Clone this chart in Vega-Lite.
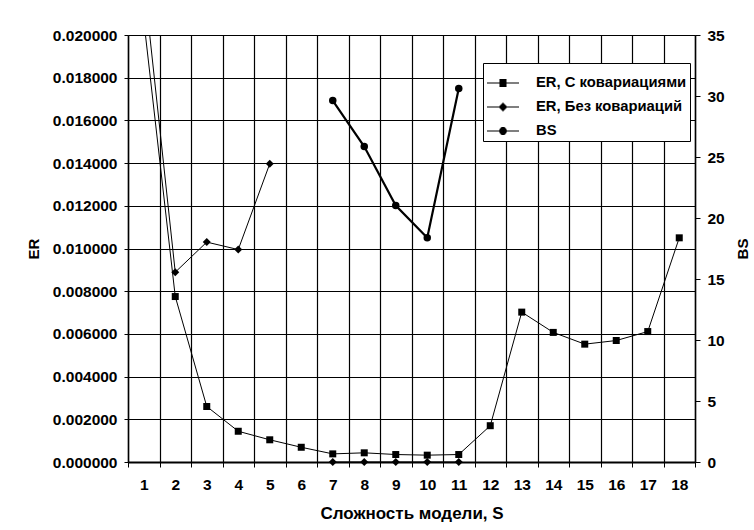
{
  "$schema": "https://vega.github.io/schema/vega-lite/v6.json",
  "width": 567,
  "height": 427,
  "autosize": {"type": "none"},
  "padding": {"left": 128, "top": 35, "right": 59, "bottom": 68},
  "background": "white",
  "config": {
    "font": "Liberation Sans",
    "view": {"stroke": null},
    "axis": {
      "labelFont": "Liberation Sans", "labelFontWeight": "bold", "labelFontSize": 15.5, "labelColor": "#000",
      "titleFont": "Liberation Sans", "titleFontWeight": "bold", "titleFontSize": 15, "titleColor": "#000",
      "domainColor": "#000", "tickColor": "#000", "gridColor": "#000", "gridOpacity": 1, "gridWidth": 1.2, "tickWidth": 1
    }
  },
  "datasets": {
    "er": [
      {"S": 1, "series": "ER, С ковариациями", "seg": "A", "ER": 0.0207},
      {"S": 2, "series": "ER, С ковариациями", "seg": "A", "ER": 0.00775},
      {"S": 3, "series": "ER, С ковариациями", "seg": "A", "ER": 0.0026},
      {"S": 4, "series": "ER, С ковариациями", "seg": "A", "ER": 0.00144},
      {"S": 5, "series": "ER, С ковариациями", "seg": "A", "ER": 0.00104},
      {"S": 6, "series": "ER, С ковариациями", "seg": "A", "ER": 0.00069},
      {"S": 7, "series": "ER, С ковариациями", "seg": "A", "ER": 0.00038},
      {"S": 8, "series": "ER, С ковариациями", "seg": "A", "ER": 0.00043},
      {"S": 9, "series": "ER, С ковариациями", "seg": "A", "ER": 0.00035},
      {"S": 10, "series": "ER, С ковариациями", "seg": "A", "ER": 0.00032},
      {"S": 11, "series": "ER, С ковариациями", "seg": "A", "ER": 0.00035},
      {"S": 12, "series": "ER, С ковариациями", "seg": "A", "ER": 0.0017},
      {"S": 13, "series": "ER, С ковариациями", "seg": "A", "ER": 0.00702},
      {"S": 14, "series": "ER, С ковариациями", "seg": "A", "ER": 0.00607},
      {"S": 15, "series": "ER, С ковариациями", "seg": "A", "ER": 0.00552},
      {"S": 16, "series": "ER, С ковариациями", "seg": "A", "ER": 0.00569},
      {"S": 17, "series": "ER, С ковариациями", "seg": "A", "ER": 0.00611},
      {"S": 18, "series": "ER, С ковариациями", "seg": "A", "ER": 0.0105},
      {"S": 1, "series": "ER, Без ковариаций", "seg": "B1", "ER": 0.0226},
      {"S": 2, "series": "ER, Без ковариаций", "seg": "B1", "ER": 0.00889},
      {"S": 3, "series": "ER, Без ковариаций", "seg": "B1", "ER": 0.0103},
      {"S": 4, "series": "ER, Без ковариаций", "seg": "B1", "ER": 0.00995},
      {"S": 5, "series": "ER, Без ковариаций", "seg": "B1", "ER": 0.01397},
      {"S": 7, "series": "ER, Без ковариаций", "seg": "B2", "ER": 0},
      {"S": 8, "series": "ER, Без ковариаций", "seg": "B2", "ER": 0},
      {"S": 9, "series": "ER, Без ковариаций", "seg": "B2", "ER": 0},
      {"S": 10, "series": "ER, Без ковариаций", "seg": "B2", "ER": 0},
      {"S": 11, "series": "ER, Без ковариаций", "seg": "B2", "ER": 0}
    ],
    "bs": [
      {"S": 7, "series": "BS", "BS": 29.63},
      {"S": 8, "series": "BS", "BS": 25.86},
      {"S": 9, "series": "BS", "BS": 21.02},
      {"S": 10, "series": "BS", "BS": 18.38},
      {"S": 11, "series": "BS", "BS": 30.61}
    ],
    "legend": [
      {"S": 1, "series": "ER, С ковариациями"},
      {"S": 1, "series": "ER, Без ковариаций"},
      {"S": 1, "series": "BS"}
    ]
  },
  "encoding": {
    "x": {
      "field": "S", "type": "ordinal",
      "scale": {"type": "band", "paddingInner": 0, "paddingOuter": 0},
      "axis": {
        "title": "Сложность модели, S", "titleFontSize": 17, "labelAngle": 0, "tickBand": "extent", "grid": true,
        "tickSize": 5, "labelPadding": 10, "domainWidth": 2,
        "titleY": 51, "titleBaseline": "middle"
      }
    }
  },
  "layer": [
    {
      "data": {"name": "er"},
      "encoding": {
        "y": {
          "field": "ER", "type": "quantitative",
          "scale": {"domain": [0, 0.02], "nice": false},
          "axis": {
            "title": "ER", "values": [0, 0.002, 0.004, 0.006, 0.008, 0.01, 0.012, 0.014, 0.016, 0.018, 0.02],
            "format": ".6f", "grid": true, "tickSize": 4, "labelPadding": 7, "domainWidth": 1.5,
            "titleX": -95, "titleY": 213.5, "titleAngle": 270, "titleBaseline": "middle", "titleAlign": "center"
          }
        }
      },
      "layer": [
        {
          "mark": {"type": "line", "color": "black", "strokeWidth": 1, "clip": true},
          "encoding": {"detail": {"field": "seg"}}
        },
        {
          "transform": [{"filter": "datum.ER <= 0.02"}],
          "mark": {"type": "point", "filled": true, "color": "black", "opacity": 1},
          "encoding": {
            "shape": {"field": "series", "type": "nominal",
              "scale": {"domain": ["ER, С ковариациями", "ER, Без ковариаций"], "range": ["square", "diamond"]},
              "legend": null},
            "size": {"field": "series", "type": "nominal",
              "scale": {"domain": ["ER, С ковариациями", "ER, Без ковариаций"], "range": [49, 64]},
              "legend": null}
          }
        }
      ]
    },
    {
      "data": {"name": "bs"},
      "encoding": {
        "y": {
          "field": "BS", "type": "quantitative",
          "scale": {"domain": [0, 35], "nice": false},
          "axis": {
            "orient": "right", "title": "BS", "values": [0, 5, 10, 15, 20, 25, 30, 35],
            "grid": false, "tickSize": 5, "labelPadding": 7, "domainWidth": 1.5,
            "titleX": 47, "titleY": 213.5, "titleAngle": 270, "titleBaseline": "middle", "titleAlign": "center"
          }
        }
      },
      "layer": [
        {"mark": {"type": "line", "color": "black", "strokeWidth": 2.2, "clip": true}},
        {"mark": {"type": "point", "filled": true, "color": "black", "shape": "circle", "size": 56, "opacity": 1}}
      ]
    },
    {
      "data": {"name": "legend"},
      "mark": {"type": "point", "filled": false, "color": "black", "strokeWidth": 1.2, "opacity": 0},
      "encoding": {
        "shape": {
          "field": "series", "type": "nominal",
          "scale": {
            "domain": ["ER, С ковариациями", "ER, Без ковариаций", "BS"],
            "range": [
              "M-1,0L1,0M-0.22,-0.1875L0.22,-0.1875M-0.22,-0.125L0.22,-0.125M-0.22,-0.0625L0.22,-0.0625M-0.22,0.0625L0.22,0.0625M-0.22,0.125L0.22,0.125M-0.22,0.1875L0.22,0.1875M-0.22,0.22L0.22,0.22M-0.22,-0.22L0.22,-0.22",
              "M-1,0L1,0M-0.03,-0.25L0.03,-0.25M-0.0925,-0.1875L0.0925,-0.1875M-0.155,-0.125L0.155,-0.125M-0.2175,-0.0625L0.2175,-0.0625M-0.2175,0.0625L0.2175,0.0625M-0.155,0.125L0.155,0.125M-0.0925,0.1875L0.0925,0.1875M-0.03,0.25L0.03,0.25",
              "M-1,0L1,0M-0.096,-0.22L0.096,-0.22M-0.15,-0.1875L0.15,-0.1875M-0.205,-0.125L0.205,-0.125M-0.232,-0.0625L0.232,-0.0625M-0.232,0.0625L0.232,0.0625M-0.205,0.125L0.205,0.125M-0.15,0.1875L0.15,0.1875M-0.096,0.22L0.096,0.22"
            ]
          },
          "legend": {
            "title": null, "orient": "none", "legendX": 355, "legendY": 28,
            "padding": 3, "rowPadding": -4,
            "symbolSize": 1024, "symbolOffset": 0, "symbolOpacity": 1, "symbolStrokeWidth": 1.2,
            "labelFont": "Liberation Sans", "labelFontSize": 14.8, "labelFontWeight": "bold", "labelColor": "#000", "labelOffset": 16, "labelLimit": 300,
            "fillColor": "white", "strokeColor": "black", "cornerRadius": 0
          }
        }
      }
    }
  ],
  "resolve": {"scale": {"y": "independent", "shape": "independent"}}
}
